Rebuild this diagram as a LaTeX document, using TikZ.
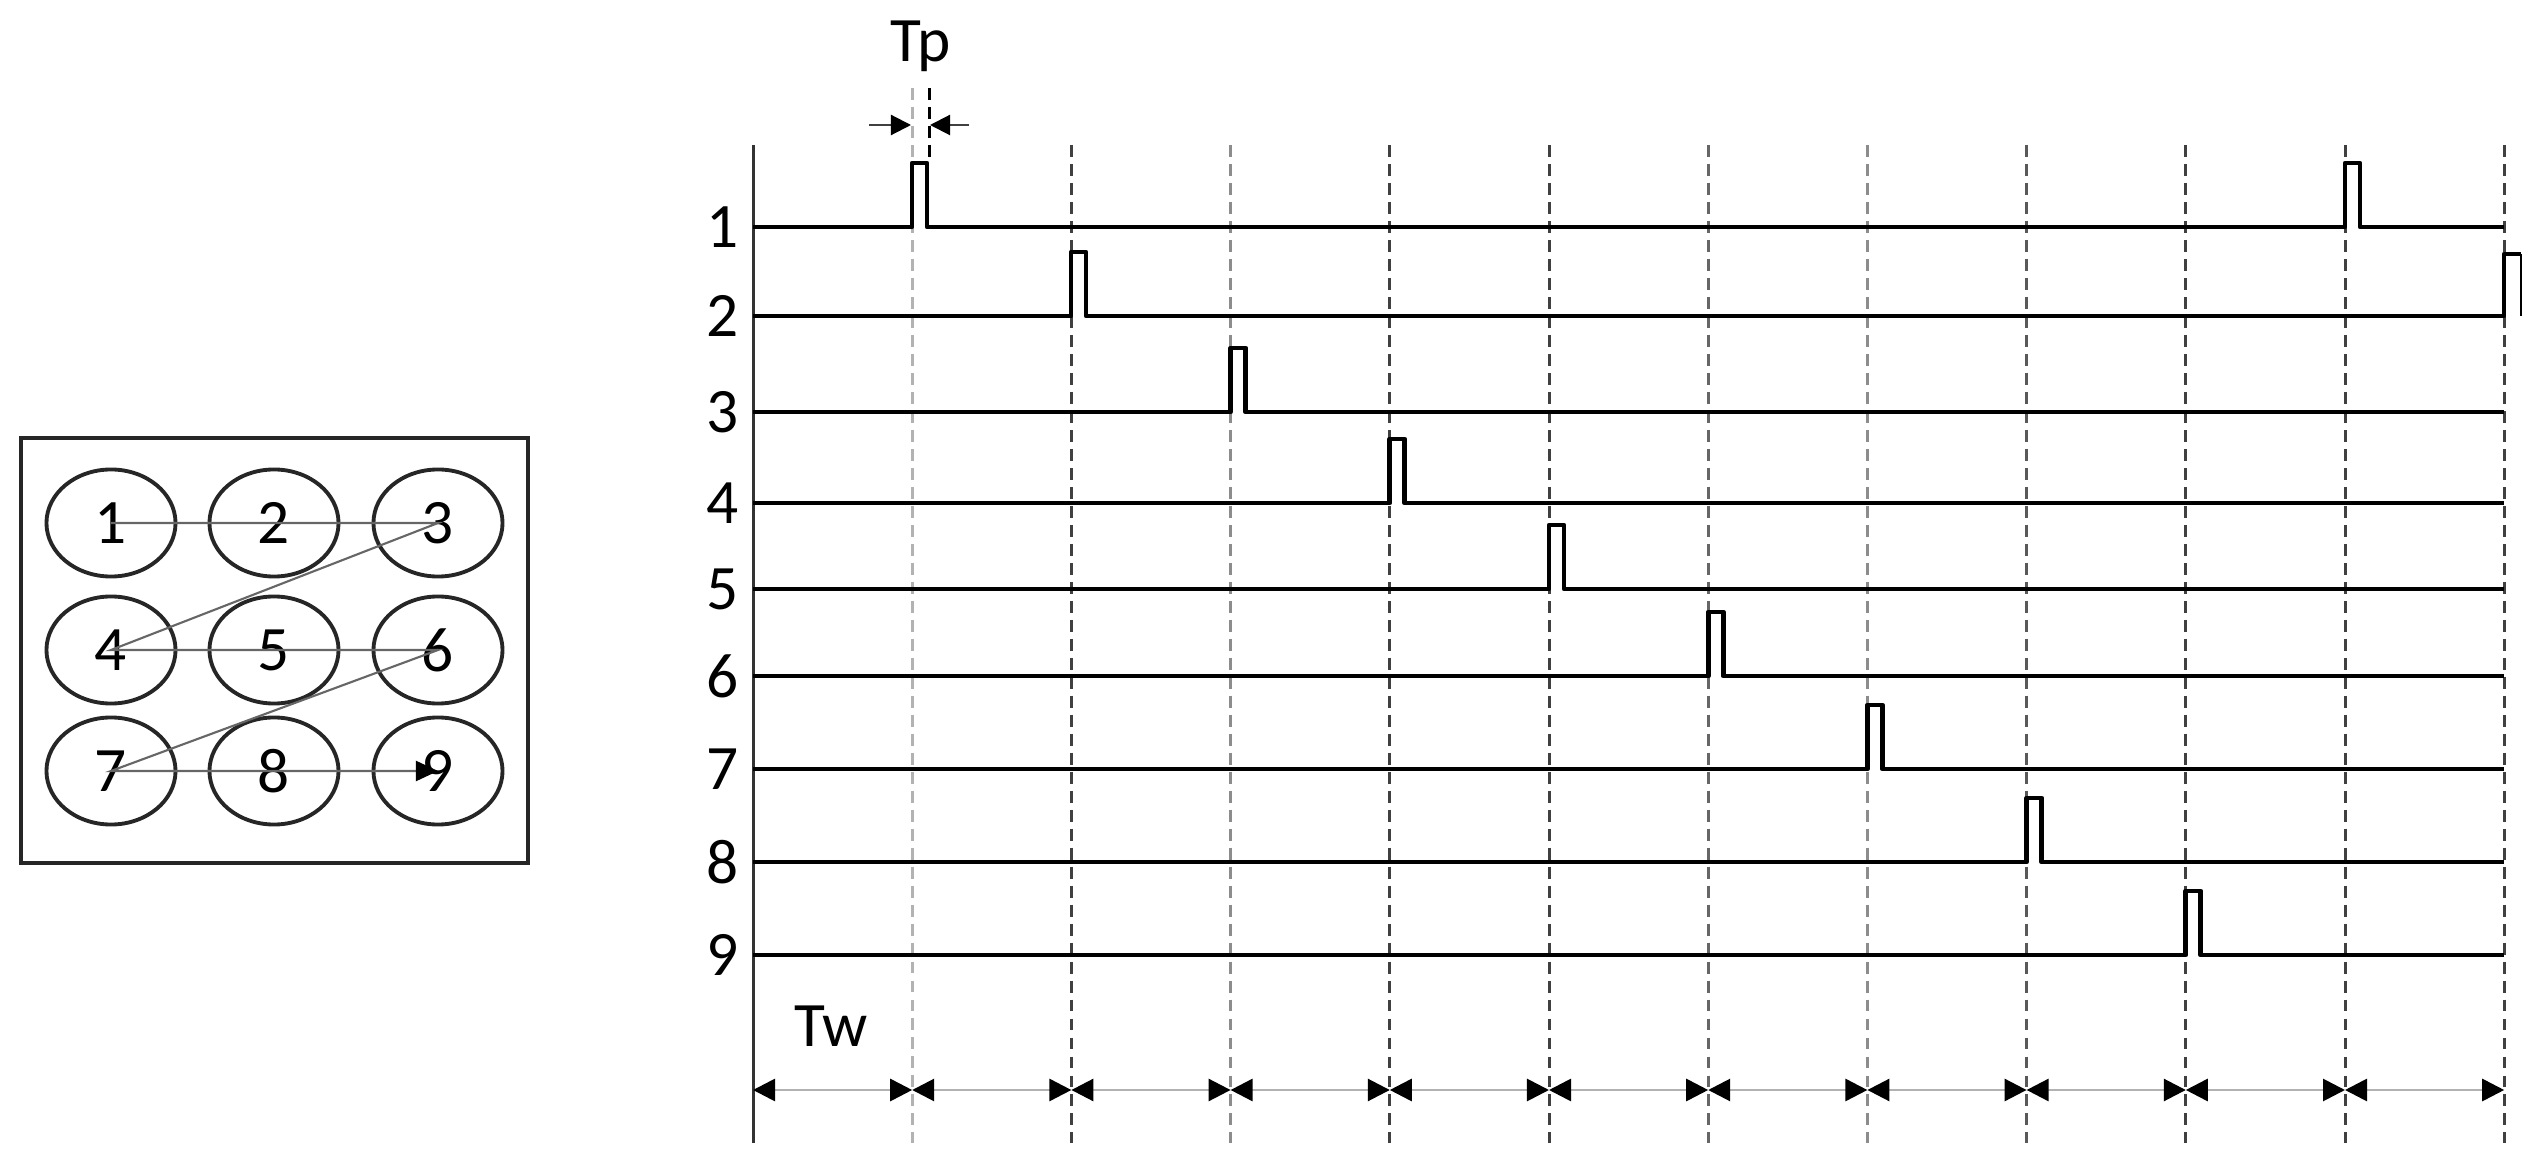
\documentclass[tikz,border=0pt]{standalone}
\usepackage{fontspec}
\setmainfont{Carlito}
\usetikzlibrary{positioning, arrows.meta, shapes.geometric}

\begin{document}
\begin{tikzpicture}[
    x=0.01cm, y=-0.01cm,
    txt/.style={font=\fontsize{18}{20}\selectfont, inner sep=0pt},
    frame/.style={rectangle, draw=black!85, line width=1.1pt, minimum width=5.07cm,
                  minimum height=4.25cm},
    cell/.style={ellipse, draw=black!85, line width=1.1pt, minimum width=1.29cm,
                 minimum height=1.07cm, inner sep=0pt, font=\fontsize{18}{20}\selectfont},
    order/.style={-{Triangle[length=2.2mm, width=2mm, color=black]}, draw=black!60,
                  line width=0.6pt},
    signal/.style={line width=1.35pt, line join=round},
    axis/.style={line width=0.85pt, draw=black!80},
    guide/.style={line width=0.85pt, dash pattern=on 3.4pt off 2pt},
    pin/.style={-{Triangle[length=2mm, width=2mm, color=black]}, line width=0.6pt, draw=black!75},
    span/.style={{Triangle[length=2.2mm, width=2.2mm, color=black]}-{Triangle[length=2.2mm, width=2.2mm, color=black]},
                 line width=0.8pt, draw=black!30}
]
    \useasboundingbox (0,0) rectangle (2541,1167);

    % Scan order of the cells
    \node[frame] (box) at (274.5,650.5) {};
    \node[cell] (c1) at (111,523) {1};
    \node[cell] (c2) at (274,523) {2};
    \node[cell] (c3) at (438,523) {3};
    \node[cell] (c4) at (111,650) {4};
    \node[cell] (c5) at (274,650) {5};
    \node[cell] (c6) at (438,650) {6};
    \node[cell] (c7) at (111,771) {7};
    \node[cell] (c8) at (274,771) {8};
    \node[cell] (c9) at (438,771) {9};
    \draw[order] (c1.center) -- (c3.center) -- (c4.center) -- (c6.center)
                 -- (c7.center) -- (c9.center);

    % Time grid
    \draw[axis] (753,145) -- (753,1143);
    \foreach \i/\c in {2/black!75, 3/black!45, 4/black!75, 5/black!75, 6/black!60,
                       7/black!45, 8/black!65, 9/black!75, 10/black!75, 11/black!75}
        \draw[guide, draw=\c] ({753+\i*159.2},145) -- ({753+\i*159.2},1143);
    \draw[guide, draw=black!30] (912,88) -- (912,1143);

    % Pulse width
    \node[txt, anchor=base] (tp) at (921,62) {Tp};
    \draw[guide, draw=black] (929,88) -- (929,157);
    \draw[pin] (869,125) -- (911,125);
    \draw[pin] (969,125) -- (930,125);

    % Channels
    \foreach \k/\y in {1/227, 2/316, 3/412, 4/503, 5/589, 6/676, 7/769, 8/862, 9/955}
        \node[txt] (ch\k) at (723,\y) {\k};
    \draw[signal] (753,227) -- (912,227) -- ++(0,-64) -- ++(15,0) -- ++(0,64)
        -- (2345,227) -- ++(0,-64) -- ++(15,0) -- ++(0,64) -- (2504,227);
    \draw[signal] (753,316) -- (1071,316) -- ++(0,-64) -- ++(15,0) -- ++(0,64)
        -- (2504,316) -- ++(0,-62) -- ++(17,0);
    \draw[line width=0.6pt] (2521,254) -- (2521,316);
    \foreach \k/\y in {3/412, 4/503, 5/589, 6/676, 7/769, 8/862, 9/955}
        \draw[signal] (753,\y) -- ({753+\k*159.2},\y) -- ++(0,-64) -- ++(15,0)
            -- ++(0,64) -- (2504,\y);

    % Slot width
    \node[txt, anchor=base] (tw) at (831,1047) {Tw};
    \foreach \i in {0,...,10}
        \draw[span] ({753+\i*159.2},1090) -- ({753+(\i+1)*159.2},1090);

\end{tikzpicture}
\end{document}
